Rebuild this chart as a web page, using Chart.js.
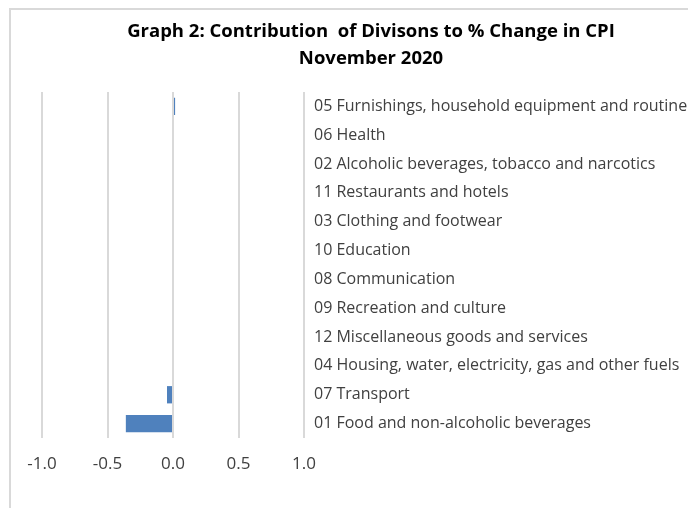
<!DOCTYPE html>
<html>
<head>
<meta charset="utf-8">
<script src="https://cdn.jsdelivr.net/npm/chart.js@4/dist/chart.umd.min.js"></script>
<style>
  html, body { margin: 0; padding: 0; background: #fff; overflow: hidden; width: 688px; height: 508px; }
  #frame { position: absolute; left: 9px; top: 8px; width: 800px; height: 600px; border-left: 2px solid #d9d9d9; border-top: 2px solid #d9d9d9; }
  #wrap { position: absolute; left: 10px; top: 9px; width: 690px; height: 499px; }
</style>
</head>
<body>
<div id="frame"></div>
<div id="wrap"><canvas id="c" width="690" height="499"></canvas></div>
<script>
const titleLines = ["Graph 2: Contribution  of Divisons to % Change in CPI", "November 2020"];
const categories = [
  "05 Furnishings, household equipment and routine household maintenance",
  "06 Health",
  "02 Alcoholic beverages, tobacco and narcotics",
  "11 Restaurants and hotels",
  "03 Clothing and footwear",
  "10 Education",
  "08 Communication",
  "09 Recreation and culture",
  "12 Miscellaneous goods and services",
  "04 Housing, water, electricity, gas and other fuels",
  "07 Transport",
  "01 Food and non-alcoholic beverages"
];
const values = [0.016, 0, 0, 0, 0, 0, 0, 0, 0, 0, -0.046, -0.36];
const xMin = -1.0, xMax = 1.0, xStep = 0.5;

new Chart(document.getElementById('c'), {
  type: 'bar',
  data: {
    labels: categories,
    datasets: [{
      data: values,
      backgroundColor: '#4f81bd',
      borderWidth: 0,
      barPercentage: 0.6,
      categoryPercentage: 1.0
    }]
  },
  options: {
    indexAxis: 'y',
    responsive: false,
    animation: false,
    layout: { padding: { left: 32, right: 0, top: 0, bottom: 0 } },
    plugins: {
      legend: { display: false },
      tooltip: { enabled: false },
      title: {
        display: true,
        text: titleLines,
        color: '#000',
        font: { family: 'Open Sans', size: 18.5, weight: 'bold', lineHeight: 1.46 },
        padding: { top: 9, bottom: 20 }
      }
    },
    scales: {
      x: {
        type: 'linear',
        min: xMin, max: xMax,
        ticks: {
          stepSize: xStep,
          padding: 16,
          color: '#404040',
          font: { family: 'Open Sans', size: 17 },
          callback: v => v.toFixed(1)
        },
        grid: { color: '#d9d9d9', lineWidth: 2, drawTicks: false },
        border: { display: false },
        afterFit: s => { s.height = 70; }
      },
      y: {
        type: 'category',
        position: 'right',
        offset: true,
        ticks: {
          crossAlign: 'near',
          padding: 2,
          color: '#404040',
          font: { family: 'Open Sans', size: 16 }
        },
        grid: { display: false },
        border: { display: false },
        afterFit: s => { s.width = 396; }
      }
    }
  }
});
</script>
</body>
</html>
